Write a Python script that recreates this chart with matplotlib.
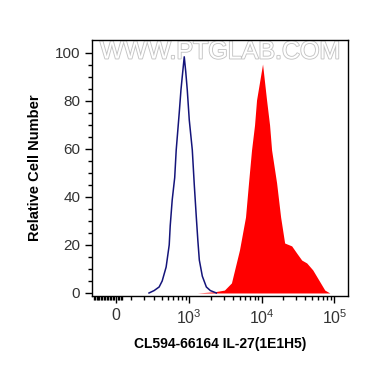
import numpy as np
import matplotlib.pyplot as plt
import matplotlib.patheffects as pe

plt.rcParams['font.family'] = ['Liberation Sans', 'DejaVu Sans']
plt.rcParams['mathtext.default'] = 'regular'

# control histogram (blue outline)
blue_x = [249, 304, 366, 408, 468, 520, 538, 575, 625, 657, 726, 768, 801, 855,
          898, 943, 1006, 1109, 1182, 1261, 1324, 1389, 1528, 1738, 1974, 2390]
blue_y = [0, 1, 2.5, 5, 10.8, 20, 28, 38.7, 48, 59.5, 75, 84.5, 90, 98.3,
          92, 84.5, 72, 59.5, 45, 31.6, 22, 13.7, 7, 2.5, 1, 0]

# stained histogram (red fill)
red_x = [1302, 2244, 3084, 3855, 4970, 6017, 6617, 7279, 8007, 8530, 10320, 11720,
         12890, 13740, 16100, 18280, 20760, 25930, 30390, 35620, 41740, 50500,
         61120, 73950, 86700]
red_y = [0, 0.5, 1.2, 4.2, 17.9, 31.6, 45.8, 59.5, 69.9, 80.3, 95.3, 80.3,
         69.9, 59.5, 45.8, 31.6, 20.8, 19.6, 16.6, 13.7, 12.5, 9.6,
         5.4, 1.2, 0]

x_major = [0, 1e3, 1e4, 1e5]
x_labels = ['0', '$10^3$', '$10^4$', '$10^5$']
y_major = [0, 20, 40, 60, 80, 100]


def fwd(x):
    return np.arcsinh(np.asarray(x) / 200.0) / np.log(10)


def inv(p):
    return 200.0 * np.sinh(np.asarray(p) * np.log(10))


fig = plt.figure(figsize=(3.7, 3.67), dpi=100)
ax = fig.add_axes([0.2486, 0.1935, 0.6919, 0.6975])
ax.set_xscale('function', functions=(fwd, inv))

ax.fill_between(red_x, red_y, 0, color='#ff0000', linewidth=0, zorder=2)
ax.plot(blue_x, blue_y, color='#14147a', linewidth=1.1, zorder=3)

ax.set_xlim(-167, 1.54e5)
ax.set_ylim(-1.25, 105.3)

minor = list(range(-150, 50, 10)) + list(range(100, 1000, 100)) + \
    list(range(2000, 10000, 1000)) + list(range(20000, 100000, 10000))
ax.set_xticks(x_major)
ax.set_xticklabels(x_labels)
ax.set_xticks(minor, minor=True)
ax.set_yticks(y_major)
ax.set_yticks(np.arange(0, 105, 5), minor=True)

ax.tick_params(which='major', direction='out', length=5, width=1, labelsize=11,
               colors='black', labelcolor='#333333')
ax.tick_params(which='minor', direction='out', length=3, width=1)
ax.tick_params(axis='x', which='major', pad=4, labelsize=11.5)
for s in ax.spines.values():
    s.set_linewidth(1)

ax.text(0.5, 0.955, 'WWW.PTGLAB.COM', transform=ax.transAxes, ha='center', va='center',
        fontsize=18, color='white', zorder=1,
        path_effects=[pe.withStroke(linewidth=1.3, foreground='#c4c4c4')])

ax.set_ylabel('Relative Cell Number', fontsize=10.5, fontweight='bold', labelpad=9)
ax.set_xlabel('CL594-66164 IL-27(1E1H5)', fontsize=10, fontweight='bold', labelpad=7)

fig.savefig('out.png', dpi=100)
